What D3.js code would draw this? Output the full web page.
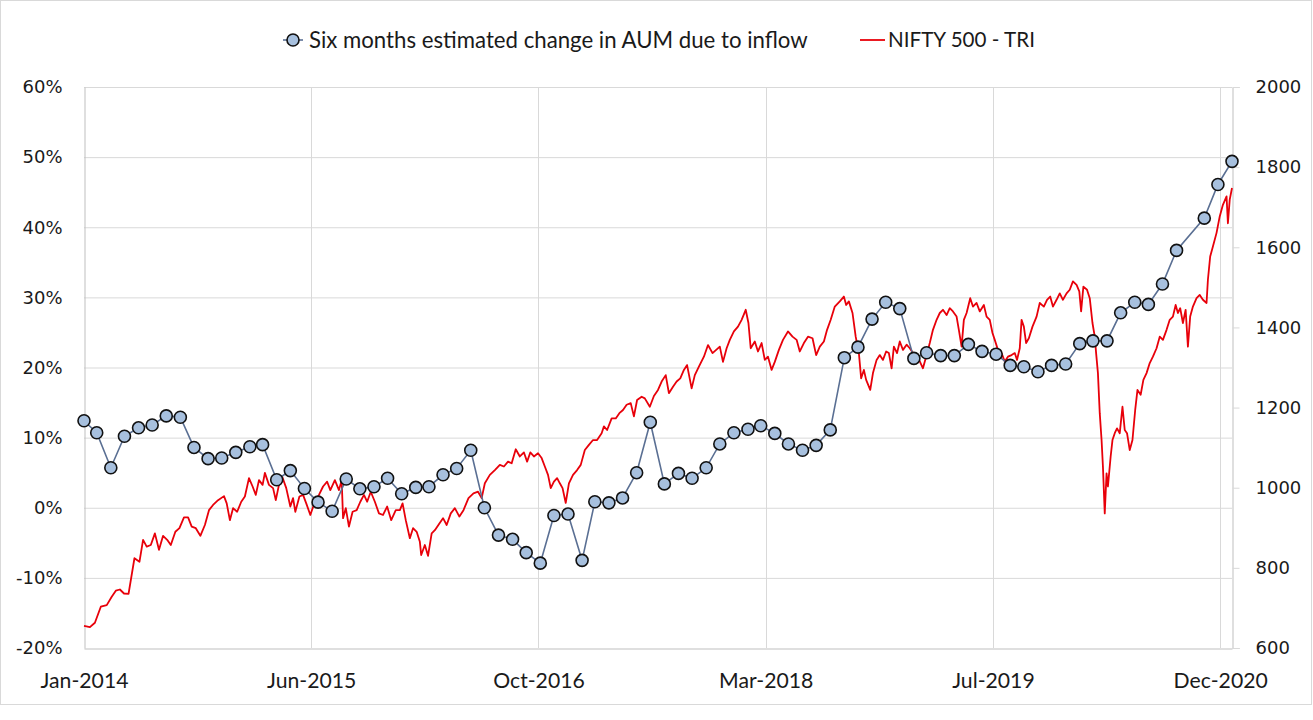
<!DOCTYPE html>
<html><head><meta charset="utf-8">
<script src="https://cdn.jsdelivr.net/npm/d3@7"></script>
<style>body{margin:0;background:#fff}svg{display:block}</style>
</head><body>
<svg id="chart" width="1313" height="720"></svg>
<script>
const aumSeriesName = "Six months estimated change in AUM due to inflow";
const niftySeriesName = "NIFTY 500 - TRI";

// Monthly (month-end) values, Jan-2014 .. Dec-2020, in percent; null = no point
const aumStartMonth = "2014-01";
const aumChange = [
  12.4, 10.7, 5.7, 10.2, 11.4, 11.8, 13.1, 12.9, 8.6, 7.0, 7.1, 7.9,
  8.7, 9.0, 4.0, 5.3, 2.75, 0.8, -0.5, 4.1, 2.7, 3.0, 4.2, 2.0,
  2.9, 3.0, 4.7, 5.6, 8.2, 0.0, -3.9, -4.5, -6.4, -7.9, -1.1, -0.9,
  -7.5, 0.85, 0.7, 1.4, 5.0, 12.2, 3.4, 4.9, 4.2, 5.7, 9.1, 10.7,
  11.2, 11.7, 10.6, 9.1, 8.2, 8.9, 11.1, 21.4, 22.9, 26.9, 29.3, 28.4,
  21.3, 22.1, 21.7, 21.7, 23.3, 22.3, 21.9, 20.3, 20.1, 19.4, 20.3, 20.5,
  23.4, 23.8, 23.8, 27.8, 29.3, 29.0, 31.9, 36.7, null, 41.3, 46.1, 49.4
];

// NIFTY 500 - TRI (date, index level)
const nifty = [
["2014-01-31",655],["2014-02-13",652],["2014-02-24",663],["2014-03-09",703],["2014-03-22",707],["2014-04-02",728],["2014-04-11",743],["2014-04-20",746],["2014-04-29",736],["2014-05-09",735],["2014-05-22",824],["2014-06-02",815],["2014-06-10",870],["2014-06-18",853],["2014-06-27",857],["2014-07-06",886],["2014-07-15",845],["2014-07-24",880],["2014-08-02",870],["2014-08-10",857],["2014-08-20",890],["2014-08-29",899],["2014-09-08",926],["2014-09-17",926],["2014-09-25",903],["2014-10-04",899],["2014-10-14",880],["2014-10-24",907],["2014-11-02",944],["2014-11-11",957],["2014-11-22",969],["2014-12-05",979],["2014-12-11",961],["2014-12-18",919],["2014-12-25",949],
["2015-01-03",940],["2015-01-12",965],["2015-01-20",978],["2015-01-29",1024],["2015-02-06",1003],["2015-02-13",982],["2015-02-20",1019],["2015-02-28",1007],["2015-03-05",1037],["2015-03-14",1007],["2015-03-23",999],["2015-03-29",969],["2015-04-05",1007],["2015-04-12",1028],["2015-04-21",999],["2015-04-30",953],["2015-05-06",974],["2015-05-11",940],["2015-05-20",978],["2015-05-28",982],["2015-06-04",961],["2015-06-13",932],["2015-06-23",965],["2015-07-02",982],["2015-07-11",1003],["2015-07-20",1015],["2015-07-27",994],["2015-08-06",1019],["2015-08-15",994],["2015-08-21",1019],["2015-08-24",924],["2015-08-30",949],["2015-09-06",903],["2015-09-14",940],["2015-09-23",944],["2015-10-01",965],["2015-10-09",982],["2015-10-16",965],["2015-10-24",990],["2015-11-02",965],["2015-11-11",936],["2015-11-20",932],["2015-11-29",953],["2015-12-08",919],["2015-12-18",944],["2015-12-27",944],
["2016-01-02",961],["2016-01-09",919],["2016-01-18",874],["2016-01-25",899],["2016-02-02",890],["2016-02-09",865],["2016-02-12",832],["2016-02-20",857],["2016-02-27",830],["2016-03-06",886],["2016-03-13",894],["2016-03-23",911],["2016-03-31",924],["2016-04-08",907],["2016-04-17",936],["2016-04-26",949],["2016-05-06",928],["2016-05-15",944],["2016-05-26",974],["2016-06-06",986],["2016-06-16",990],["2016-06-24",974],["2016-07-01",1011],["2016-07-12",1032],["2016-07-23",1044],["2016-08-03",1057],["2016-08-12",1053],["2016-08-21",1065],["2016-08-29",1061],["2016-09-07",1096],["2016-09-16",1078],["2016-09-25",1088],["2016-10-02",1065],["2016-10-09",1088],["2016-10-17",1078],["2016-10-26",1086],["2016-11-03",1074],["2016-11-10",1053],["2016-11-17",1032],["2016-11-23",999],["2016-11-30",1015],["2016-12-07",1024],["2016-12-13",1011],["2016-12-19",999],["2016-12-26",962],
["2017-01-02",1011],["2017-01-11",1032],["2017-01-20",1044],["2017-01-28",1057],["2017-02-06",1094],["2017-02-15",1107],["2017-02-24",1119],["2017-03-05",1119],["2017-03-15",1136],["2017-03-20",1153],["2017-03-27",1144],["2017-04-06",1173],["2017-04-15",1173],["2017-04-23",1186],["2017-05-01",1194],["2017-05-09",1207],["2017-05-18",1211],["2017-05-25",1178],["2017-06-01",1219],["2017-06-11",1227],["2017-06-18",1223],["2017-06-29",1202],["2017-07-08",1229],["2017-07-17",1244],["2017-07-25",1265],["2017-08-03",1281],["2017-08-10",1236],["2017-08-19",1252],["2017-08-27",1265],["2017-09-04",1273],["2017-09-12",1294],["2017-09-19",1306],["2017-09-29",1248],["2017-10-06",1281],["2017-10-15",1302],["2017-10-26",1327],["2017-11-04",1356],["2017-11-14",1336],["2017-11-22",1344],["2017-11-30",1352],["2017-12-07",1314],["2017-12-15",1348],["2017-12-22",1369],["2017-12-31",1390],
["2018-01-09",1402],["2018-01-17",1419],["2018-01-26",1444],["2018-02-01",1411],["2018-02-06",1348],["2018-02-15",1365],["2018-02-22",1340],["2018-03-02",1361],["2018-03-09",1319],["2018-03-16",1327],["2018-03-24",1294],["2018-03-31",1314],["2018-04-09",1344],["2018-04-18",1369],["2018-04-29",1390],["2018-05-09",1377],["2018-05-18",1369],["2018-05-25",1340],["2018-06-03",1361],["2018-06-12",1377],["2018-06-22",1373],["2018-06-30",1331],["2018-07-08",1352],["2018-07-17",1365],["2018-07-24",1394],["2018-08-01",1419],["2018-08-10",1452],["2018-08-21",1465],["2018-08-30",1477],["2018-09-04",1456],["2018-09-10",1465],["2018-09-18",1436],["2018-09-25",1377],["2018-10-02",1336],["2018-10-07",1273],["2018-10-13",1294],["2018-10-18",1269],["2018-10-27",1244],["2018-11-02",1286],["2018-11-10",1319],["2018-11-17",1331],["2018-11-24",1319],["2018-12-01",1340],["2018-12-07",1336],["2018-12-13",1298],["2018-12-18",1352],["2018-12-25",1336],["2018-12-31",1365],
["2019-01-07",1344],["2019-01-15",1357],["2019-01-22",1348],["2019-01-29",1336],["2019-02-06",1327],["2019-02-13",1315],["2019-02-20",1298],["2019-02-28",1331],["2019-03-07",1361],["2019-03-14",1394],["2019-03-22",1419],["2019-03-29",1436],["2019-04-05",1444],["2019-04-13",1431],["2019-04-20",1448],["2019-04-27",1440],["2019-05-05",1427],["2019-05-10",1394],["2019-05-16",1352],["2019-05-21",1419],["2019-05-27",1436],["2019-06-04",1473],["2019-06-10",1452],["2019-06-18",1461],["2019-06-25",1440],["2019-07-04",1456],["2019-07-10",1427],["2019-07-17",1419],["2019-07-23",1386],["2019-07-28",1369],["2019-08-04",1344],["2019-08-12",1336],["2019-08-19",1315],["2019-08-26",1327],["2019-09-03",1331],["2019-09-10",1336],["2019-09-15",1319],["2019-09-21",1348],["2019-09-25",1419],["2019-09-30",1402],["2019-10-05",1361],["2019-10-11",1373],["2019-10-19",1402],["2019-10-28",1427],["2019-11-04",1461],["2019-11-13",1452],["2019-11-20",1469],["2019-11-27",1477],["2019-12-03",1452],["2019-12-11",1469],["2019-12-18",1485],["2019-12-25",1469],
["2020-01-02",1485],["2020-01-09",1494],["2020-01-16",1515],["2020-01-24",1506],["2020-01-30",1490],["2020-02-03",1440],["2020-02-08",1502],["2020-02-16",1494],["2020-02-22",1473],["2020-02-28",1411],["2020-03-04",1377],["2020-03-07",1336],["2020-03-11",1286],["2020-03-15",1186],["2020-03-19",1119],["2020-03-22",1053],["2020-03-26",936],["2020-03-30",1036],["2020-04-02",1003],["2020-04-08",1078],["2020-04-12",1119],["2020-04-17",1136],["2020-04-22",1148],["2020-04-28",1136],["2020-05-04",1202],["2020-05-09",1144],["2020-05-14",1136],["2020-05-20",1094],["2020-05-26",1119],["2020-06-01",1194],["2020-06-06",1244],["2020-06-13",1232],["2020-06-19",1269],["2020-06-26",1286],["2020-07-03",1311],["2020-07-10",1327],["2020-07-18",1348],["2020-07-25",1377],["2020-08-01",1369],["2020-08-09",1394],["2020-08-16",1419],["2020-08-23",1427],["2020-08-29",1456],["2020-09-03",1436],["2020-09-08",1448],["2020-09-14",1411],["2020-09-20",1444],["2020-09-25",1352],["2020-09-30",1427],["2020-10-06",1452],["2020-10-14",1473],["2020-10-21",1481],["2020-10-28",1469],["2020-11-05",1461],["2020-11-08",1519],["2020-11-13",1577],["2020-11-19",1602],["2020-11-27",1636],["2020-12-04",1677],["2020-12-11",1706],["2020-12-19",1727],["2020-12-22",1660],["2020-12-26",1719],["2020-12-31",1748]
];

const leftTicks = [-0.2, -0.1, 0, 0.1, 0.2, 0.3, 0.4, 0.5, 0.6];
const rightTicks = [600, 800, 1000, 1200, 1400, 1600, 1800, 2000];
const xTickDates = ["2014-01-31","2015-06-15","2016-10-27","2018-03-11","2019-07-24","2020-12-05"];
const xDomain = ["2014-01-31","2020-12-31"];

// ---------- drawing ----------
const parseDay = d3.timeParse("%Y-%m-%d");
const parseMonth = d3.timeParse("%Y-%m");
const fmtTick = d3.timeFormat("%b-%Y");
const fmtPct = v => Math.round(v * 100) + "%";

const L = 84, R = 1232, T = 87, B = 648;
const svg = d3.select("#chart");
svg.append("rect").attr("x",0.5).attr("y",0.5).attr("width",1311).attr("height",704)
   .attr("fill","#fff").attr("stroke","#d9d9d9");

const x = d3.scaleTime().domain(xDomain.map(parseDay)).range([L, R]);
const yL = d3.scaleLinear().domain([-0.2, 0.6]).range([B, T]);
const yR = d3.scaleLinear().domain([600, 2000]).range([B, T]);

const start = parseMonth(aumStartMonth);
const aumData = aumChange.map((v, i) => ({
  date: d3.timeDay.offset(d3.timeMonth.offset(start, i + 1), -1),
  value: v == null ? null : v / 100
})).filter(d => d.value != null);
const niftyData = nifty.map(([d, v]) => ({date: parseDay(d), value: v}));

// gridlines
const grid = svg.append("g");
grid.selectAll("line.h").data(leftTicks.slice(1)).join("line")
  .attr("x1", L).attr("x2", R).attr("y1", d => yL(d) + 0.5).attr("y2", d => yL(d) + 0.5)
  .attr("stroke", "#d9d9d9").attr("stroke-width", 1);
const xTicks = xTickDates.map(parseDay);
grid.selectAll("line.v").data(xTicks.slice(1)).join("line")
  .attr("x1", d => Math.round(x(d)) + 0.5).attr("x2", d => Math.round(x(d)) + 0.5)
  .attr("y1", T).attr("y2", B)
  .attr("stroke", "#d9d9d9").attr("stroke-width", 1);

// axes
const axisCol = "#bfbfbf";
const gL = svg.append("g").attr("transform", `translate(${L + 0.5},0)`)
  .call(d3.axisLeft(yL).tickValues(leftTicks).tickFormat(fmtPct).tickSize(0).tickPadding(22));
gL.select(".domain").attr("stroke", axisCol);
gL.selectAll("text").attr("font-family","DejaVu Sans").attr("font-size", 18).attr("fill", "#1a1a1a");

const gR = svg.append("g").attr("transform", `translate(${R + 0.5},0)`)
  .call(d3.axisRight(yR).tickValues(rightTicks).tickFormat(d3.format("d")).tickSize(7).tickPadding(16));
gR.select(".domain").attr("stroke", axisCol);
gR.selectAll(".tick line").attr("stroke", "#d9d9d9");
gR.selectAll("text").attr("font-family","DejaVu Sans").attr("font-size", 18).attr("fill", "#1a1a1a");

const gB = svg.append("g").attr("transform", `translate(0,${B + 0.5})`)
  .call(d3.axisBottom(x).tickValues(xTicks).tickFormat(fmtTick).tickSize(0).tickPadding(24));
gB.select(".domain").attr("stroke", axisCol);
gB.selectAll("text").attr("font-family","Lato").attr("font-size", 20).attr("fill", "#1a1a1a");
{
  const n = gB.select("text").node();
  const w = n.getComputedTextLength();
  gB.selectAll("text").attr("font-size", 20 * 88 / w);
}

// series
const blueLine = "#5a6f93", dotFill = "#a7c0de", red = "#e8000a";
svg.append("path").datum(niftyData)
  .attr("fill","none").attr("stroke", red).attr("stroke-width", 1.8).attr("stroke-linejoin","round")
  .attr("d", d3.line().x(d => x(d.date)).y(d => yR(d.value)));

svg.append("path").datum(aumData)
  .attr("fill","none").attr("stroke", blueLine).attr("stroke-width", 1.6)
  .attr("d", d3.line().x(d => x(d.date)).y(d => yL(d.value)));
svg.append("g").selectAll("circle").data(aumData).join("circle")
  .attr("cx", d => x(d.date)).attr("cy", d => yL(d.value)).attr("r", 6)
  .attr("fill", dotFill).attr("stroke", "#111").attr("stroke-width", 1.6);

// legend
const lg = svg.append("g");
const ly = 40;
lg.append("line").attr("x1",283).attr("x2",303).attr("y1",ly).attr("y2",ly).attr("stroke",blueLine).attr("stroke-width",1.6);
lg.append("circle").attr("cx",293).attr("cy",ly).attr("r",6).attr("fill",dotFill).attr("stroke","#111").attr("stroke-width",1.6);
const t1 = lg.append("text").attr("x",309).attr("y",ly).attr("dy","0.35em")
  .attr("font-family","Lato").attr("font-size",20).attr("fill","#1a1a1a").text(aumSeriesName);
t1.attr("font-size", 20 * 499 / t1.node().getComputedTextLength());
lg.append("line").attr("x1",860).attr("x2",885).attr("y1",ly).attr("y2",ly).attr("stroke",red).attr("stroke-width",1.8);
const t2 = lg.append("text").attr("x",888).attr("y",ly).attr("dy","0.35em")
  .attr("font-family","Lato").attr("font-size",20).attr("fill","#1a1a1a").text(niftySeriesName);
t2.attr("font-size", 20 * 147 / t2.node().getComputedTextLength());
</script>
</body></html>
